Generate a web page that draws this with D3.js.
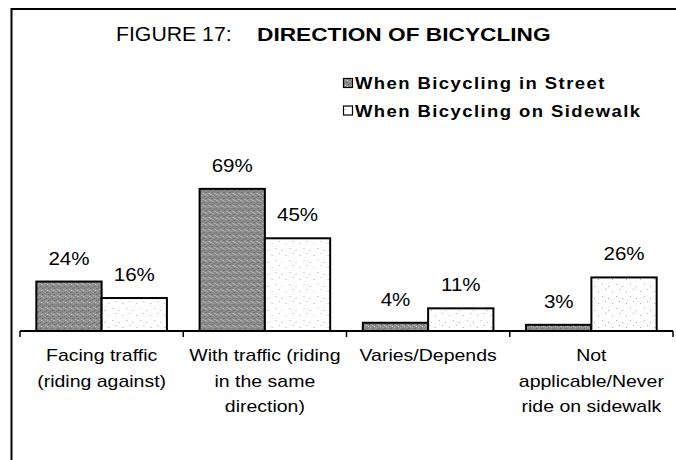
<!DOCTYPE html>
<html>
<head>
<meta charset="utf-8">
<script src="https://cdn.jsdelivr.net/npm/d3@7"></script>
<style>
  body { margin: 0; background: #fff; }
  text { font-family: "Liberation Sans", Arial, sans-serif; fill: #000; }
</style>
</head>
<body>
<div id="chart"></div>
<script>
var w = 676;
var h = 460;

// data
var categories = [
  ["Facing traffic", "(riding against)"],
  ["With traffic (riding", "in the same", "direction)"],
  ["Varies/Depends"],
  ["Not", "applicable/Never", "ride on sidewalk"]
];
var seriesNames = ["When Bicycling in Street", "When Bicycling on Sidewalk"];
var street = [24, 69, 4, 3];
var sidewalk = [16, 45, 11, 26];

var svg = d3
  .select("#chart")
  .append("svg")
  .attr("width", w)
  .attr("height", h);

var defs = svg.append("defs");

// speckled grey fill for the street bars
var pDark = defs.append("pattern")
  .attr("id", "dark")
  .attr("width", 6)
  .attr("height", 6)
  .attr("patternUnits", "userSpaceOnUse");
pDark.append("rect").attr("width", 6).attr("height", 6).attr("fill", "#8c8c8c");
[[0, 0, "#5a5a5a"], [3, 1, "#c8c8c8"], [1, 3, "#b0b0b0"], [4, 4, "#606060"], [5, 2, "#d8d8d8"], [2, 5, "#707070"]]
  .forEach(function(p) {
    pDark.append("rect").attr("x", p[0]).attr("y", p[1]).attr("width", 1).attr("height", 1).attr("fill", p[2]);
  });

// sparse dots for the sidewalk bars
var pLight = defs.append("pattern")
  .attr("id", "light")
  .attr("width", 14)
  .attr("height", 12)
  .attr("patternUnits", "userSpaceOnUse");
pLight.append("rect").attr("width", 14).attr("height", 12).attr("fill", "#fff");
[[2, 3], [9, 1], [6, 8], [12, 10]].forEach(function(p) {
  pLight.append("rect").attr("x", p[0]).attr("y", p[1]).attr("width", 1).attr("height", 1).attr("fill", "#aaa");
});

var fills = ["url(#dark)", "url(#light)"];

var x0 = d3
  .scaleBand()
  .domain(d3.range(categories.length))
  .range([20, 673])
  .paddingInner(0.2)
  .paddingOuter(0.1);

var x1 = d3
  .scaleBand()
  .domain([0, 1])
  .range([0, x0.bandwidth()]);

var y = d3
  .scaleLinear()
  .domain([0, 100])
  .range([331, 125]);

// frame (only the top and left edges show)
svg.append("path")
  .attr("d", "M11.5," + h + "V9H" + w)
  .attr("fill", "none")
  .attr("stroke", "#000")
  .attr("stroke-width", 2);

// helper: text slightly widened like the scan
function label(g, txt, tx, ty, size, sx, anchor, weight) {
  return g.append("text")
    .attr("transform", "translate(" + tx + "," + ty + ") scale(" + sx + ",1)")
    .attr("text-anchor", anchor)
    .style("font-size", size + "px")
    .style("font-weight", weight || "normal")
    .text(txt);
}

// title
label(svg, "FIGURE 17:", 116, 40.7, 19.5, 1.09, "start");
label(svg, "DIRECTION OF BICYCLING", 257, 40.7, 18.6, 1.22, "start", "bold");

// legend
var legend = svg.append("g");
seriesNames.forEach(function(name, i) {
  var ly = 89 + i * 27.5;
  legend.append("rect")
    .attr("x", 343.5)
    .attr("y", ly - 10.5)
    .attr("width", 9)
    .attr("height", 9)
    .attr("fill", fills[i])
    .attr("stroke", "#000")
    .attr("stroke-width", 1.2);
  label(legend, name, 355, ly, 16.8, 1.1, "start", "bold")
    .style("letter-spacing", "1.3px");
});

// bars
var series = [street, sidewalk];
var groups = svg.append("g")
  .selectAll("g")
  .data(categories)
  .join("g")
  .attr("transform", function(d, i) { return "translate(" + x0(i) + ",0)"; });

groups.each(function(d, i) {
  var g = d3.select(this);
  series.forEach(function(s, k) {
    g.append("rect")
      .attr("x", x1(k))
      .attr("y", y(s[i]))
      .attr("width", x1.bandwidth())
      .attr("height", y(0) - y(s[i]))
      .attr("fill", fills[k])
      .attr("stroke", "#000")
      .attr("stroke-width", 2);
    label(g, s[i] + "%", x1(k) + x1.bandwidth() / 2, y(s[i]) - 17, 18.7, 1.1, "middle");
  });
});

// category axis: baseline with ticks at band edges
var step = x0.step();
var edges = d3.range(categories.length + 1).map(function(i) {
  return x0.range()[0] + i * step;
});
var axis = svg.append("g");
axis.append("line")
  .attr("x1", edges[0])
  .attr("x2", edges[edges.length - 1])
  .attr("y1", y(0))
  .attr("y2", y(0))
  .attr("stroke", "#000")
  .attr("stroke-width", 2);
axis.selectAll(".tick")
  .data(edges)
  .join("line")
  .attr("class", "tick")
  .attr("x1", function(d) { return d; })
  .attr("x2", function(d) { return d; })
  .attr("y1", y(0))
  .attr("y2", y(0) + 6)
  .attr("stroke", "#000")
  .attr("stroke-width", 1.5);

categories.forEach(function(lines, i) {
  var cx = x0(i) + x0.bandwidth() / 2;
  lines.forEach(function(t, j) {
    label(axis, t, cx, 361 + j * 25.5, 16.8, 1.16, "middle");
  });
});
</script>
</body>
</html>
